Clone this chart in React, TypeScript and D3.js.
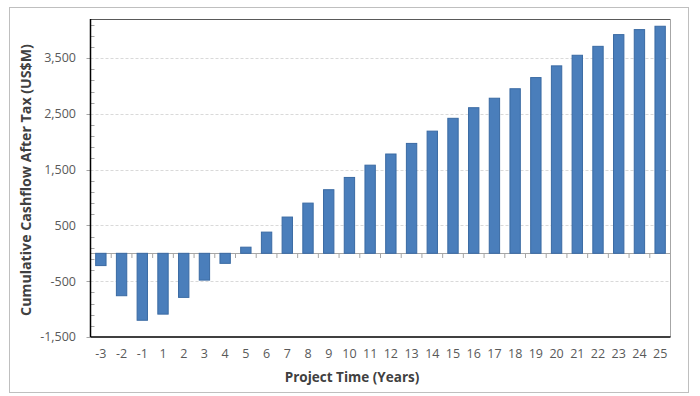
import React, { useEffect } from "react";
import * as d3 from "d3";

// project years (no year 0 on the chart)
const years = ["-3", "-2", "-1", "1", "2", "3", "4", "5", "6", "7", "8", "9", "10", "11", "12", "13", "14", "15", "16", "17", "18", "19", "20", "21", "22", "23", "24", "25"];
// cumulative after-tax cashflow, US$M
const cashflow = [-220, -760, -1200, -1090, -790, -480, -180, 110, 380, 650, 900, 1140, 1360, 1580, 1780, 1970, 2190, 2420, 2610, 2780, 2950, 3150, 3360, 3550, 3710, 3920, 4010, 4070];
const yMin = -1500;
const yMax = 4200;
const majorStep = 1000;
const minorStep = 200;

const W = 700;
const H = 396;
const plot = { left: 90.5, right: 670.5, top: 19, bottom: 337 };
const font = "'Open Sans', sans-serif";

const App: React.FC = () => {
  useEffect(() => {
    document.body.style.margin = "0";
  }, []);

  const x = d3.scaleBand<string>().domain(years).range([plot.left, plot.right]).paddingInner(0.5).paddingOuter(0.25);
  const y = d3.scaleLinear().domain([yMin, yMax]).range([plot.bottom, plot.top]);
  const fmt = (v: number) => d3.format(",")(v).replace("−", "-");

  const majors = d3.range(yMin, yMax + 1, majorStep);
  const minors = d3.range(yMin, yMax + 1, minorStep).filter((v) => (v - yMin) % majorStep !== 0);
  const step = x.step();
  const y0 = y(0);

  return (
    <svg width={W} height={H} style={{ display: "block", background: "#fff" }}>
      <rect x={9.5} y={7.5} width={679} height={385} fill="#fff" stroke="#bfbfbf" />

      {/* gridlines */}
      {majors.slice(1).map((v) => (
        <line key={"g" + v} x1={plot.left} x2={plot.right} y1={Math.round(y(v)) + 0.5} y2={Math.round(y(v)) + 0.5} stroke="#d9d9d9" strokeDasharray="3,2" />
      ))}

      {/* plot frame */}
      <line x1={plot.left} x2={plot.right} y1={plot.top + 0.5} y2={plot.top + 0.5} stroke="#595959" />
      <line x1={plot.right} x2={plot.right} y1={plot.top} y2={plot.bottom} stroke="#a6a6a6" />

      {/* zero (category) axis */}
      <line x1={plot.left} x2={plot.right} y1={Math.round(y0) + 0.5} y2={Math.round(y0) + 0.5} stroke="#a6a6a6" />
      {years.map((c, i) => (
        <line key={"xt" + c} x1={plot.left + step * i} x2={plot.left + step * i} y1={Math.round(y0)} y2={Math.round(y0) + 5} stroke="#a6a6a6" />
      ))}
      <line x1={plot.right} x2={plot.right} y1={Math.round(y0)} y2={Math.round(y0) + 5} stroke="#a6a6a6" />

      {/* bars */}
      {cashflow.map((v, i) => {
        const top = Math.min(y(v), y0);
        const h = Math.abs(y(v) - y0);
        return (
          <rect key={"b" + i} x={x(years[i])} y={top} width={x.bandwidth()} height={h} fill="#4a7ebb" stroke="#3a6aa3" strokeWidth={1} />
        );
      })}

      {/* y axis */}
      {minors.map((v) => (
        <line key={"mt" + v} x1={plot.left} x2={plot.left + 4} y1={Math.round(y(v)) + 0.5} y2={Math.round(y(v)) + 0.5} stroke="#a6a6a6" />
      ))}
      {majors.map((v) => (
        <g key={"yt" + v}>
          <line x1={plot.left - 4} x2={plot.left} y1={Math.round(y(v)) + 0.5} y2={Math.round(y(v)) + 0.5} stroke="#a6a6a6" />
          <text x={76} y={y(v)} dy="0.35em" textAnchor="end" fontFamily={font} fontSize={12.5} fill="#595959">
            {fmt(v)}
          </text>
        </g>
      ))}
      <line x1={plot.left} x2={plot.left} y1={plot.top} y2={plot.bottom} stroke="#000" strokeWidth={1.5} />
      <line x1={plot.left} x2={plot.right} y1={plot.bottom} y2={plot.bottom} stroke="#000" strokeWidth={1.5} />

      {/* x labels */}
      {years.map((c) => (
        <text key={"xl" + c} x={(x(c) as number) + x.bandwidth() / 2} y={354} dy="0.35em" textAnchor="middle" fontFamily={font} fontSize={12.5} fill="#595959">
          {c}
        </text>
      ))}

      {/* titles */}
      <text x={352} y={377} dy="0.35em" textAnchor="middle" fontFamily={font} fontSize={13.5} fontWeight={700} fill="#404040">
        Project Time (Years)
      </text>
      <text transform={`translate(26,180) rotate(-90)`} dy="0.35em" textAnchor="middle" fontFamily={font} fontSize={14.2} fontWeight={700} fill="#404040">
        Cumulative Cashflow After Tax (US$M)
      </text>
    </svg>
  );
};

export default App;
